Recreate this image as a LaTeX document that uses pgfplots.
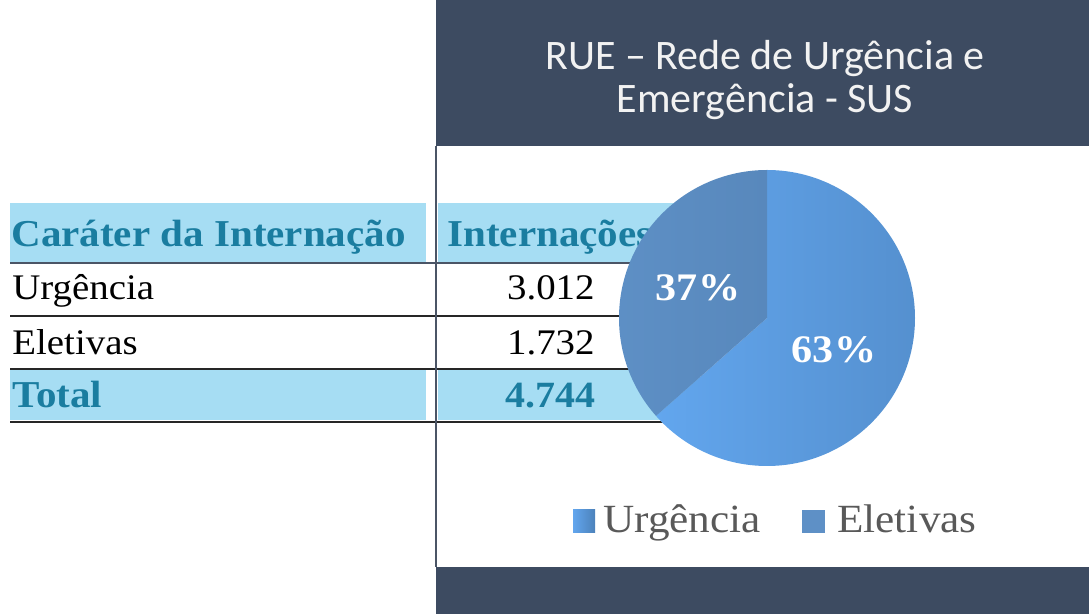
\documentclass[border=0pt]{standalone}
\usepackage{fontspec}
\usepackage{pgfplots}
\pgfplotsset{compat=1.18}
\newfontfamily\tabfont{Liberation Serif}[FakeStretch=1.08]
\newfontfamily\titlefont{Carlito}
\definecolor{band}{HTML}{3D4B61}
\definecolor{vline}{HTML}{4B5566}
\definecolor{cellblue}{HTML}{A6DDF3}
\definecolor{teal}{HTML}{1A7DA0}
\definecolor{urgA}{HTML}{62A6EE}
\definecolor{urgB}{HTML}{5590CF}
\definecolor{eleA}{HTML}{5E90C6}
\definecolor{eleB}{HTML}{5888BC}
\definecolor{legtext}{HTML}{595959}
\definecolor{ttext}{HTML}{F2F2F2}
\def\valU{3012}
\def\valE{1732}
\begin{document}
\begin{tikzpicture}
\begin{axis}[x=0.5pt, y=0.5pt, xmin=0, xmax=1089, ymin=0, ymax=614,
  y dir=reverse, hide axis, scale only axis, clip=false]
% background
\fill[white] (axis cs:0,0) rectangle (axis cs:1089,614);
% bands
\fill[band] (axis cs:436,0) rectangle (axis cs:1089,146);
\fill[band] (axis cs:436,567) rectangle (axis cs:1089,614);
% title
\node[anchor=base, text=ttext, font=\titlefont\fontsize{21pt}{24pt}\selectfont] at (axis cs:765,70) {RUE – Rede de Urgência e};
\node[anchor=base, text=ttext, font=\titlefont\fontsize{21pt}{24pt}\selectfont] at (axis cs:765,113) {Emergência - SUS};
% table cells
\fill[cellblue] (axis cs:10,203) rectangle (axis cs:426,262);
\fill[cellblue] (axis cs:438,203) rectangle (axis cs:700,262);
\fill[cellblue] (axis cs:10,369) rectangle (axis cs:426,420);
\fill[cellblue] (axis cs:438,369) rectangle (axis cs:700,420);
% table lines
\draw[line width=1pt, color=vline] (axis cs:10,263) -- (axis cs:700,263);
\draw[line width=0.8pt, color=black!85] (axis cs:10,316) -- (axis cs:700,316);
\draw[line width=0.8pt, color=black!85] (axis cs:10,369) -- (axis cs:700,369);
\draw[line width=0.8pt, color=black!85] (axis cs:10,422) -- (axis cs:700,422);
% vertical line
\draw[line width=1.2pt, color=vline] (axis cs:436,146) -- (axis cs:436,567);
% table text
\node[anchor=base west, inner sep=0pt, text=teal, font=\tabfont\bfseries\fontsize{19pt}{21pt}\selectfont] at (axis cs:11,247) {Caráter da Internação};
\node[anchor=base west, inner sep=0pt, text=teal, font=\tabfont\bfseries\fontsize{19pt}{21pt}\selectfont] at (axis cs:447,247) {Internações};
\node[anchor=base west, inner sep=0pt, font=\tabfont\fontsize{18pt}{21pt}\selectfont] at (axis cs:12,300) {Urgência};
\node[anchor=base west, inner sep=0pt, font=\tabfont\fontsize{18pt}{21pt}\selectfont] at (axis cs:12,355) {Eletivas};
\node[anchor=base west, inner sep=0pt, text=teal, font=\tabfont\bfseries\fontsize{19pt}{21pt}\selectfont] at (axis cs:12,408) {Total};
\node[anchor=base east, inner sep=0pt, font=\tabfont\fontsize{18pt}{21pt}\selectfont] at (axis cs:595,300) {3.012};
\node[anchor=base east, inner sep=0pt, font=\tabfont\fontsize{18pt}{21pt}\selectfont] at (axis cs:595,355) {1.732};
\node[anchor=base east, inner sep=0pt, text=teal, font=\tabfont\bfseries\fontsize{18.5pt}{21pt}\selectfont] at (axis cs:596,408) {4.744};
% pie
\pgfmathsetmacro\fracU{\valU/(\valU+\valE)}
\pgfmathsetmacro\angU{90-360*\fracU}
\shade[left color=urgA, right color=urgB] (axis cs:767,318) -- ++(90:74pt) arc[start angle=90, end angle=\angU, radius=74pt] -- cycle;
\shade[left color=eleA, right color=eleB] (axis cs:767,318) -- ++(\angU:74pt) arc[start angle=\angU, end angle=-270, radius=74pt] -- cycle;
\node[text=white, font=\tabfont\bfseries\fontsize{19.5pt}{22pt}\selectfont] at (axis cs:698,288) {37\%};
\node[text=white, font=\tabfont\bfseries\fontsize{19.5pt}{22pt}\selectfont] at (axis cs:834,350) {63\%};
% legend
\shade[left color=urgA, right color=urgB!90!black] (axis cs:573,510) rectangle (axis cs:595,533);
\fill[eleA] (axis cs:802,510) rectangle (axis cs:825,533);
\node[anchor=base west, inner sep=0pt, text=legtext, font=\tabfont\fontsize{20pt}{22pt}\selectfont] at (axis cs:603,533) {Urgência};
\node[anchor=base west, inner sep=0pt, text=legtext, font=\tabfont\fontsize{20pt}{22pt}\selectfont] at (axis cs:837,533) {Eletivas};
\end{axis}
\end{tikzpicture}
\end{document}
